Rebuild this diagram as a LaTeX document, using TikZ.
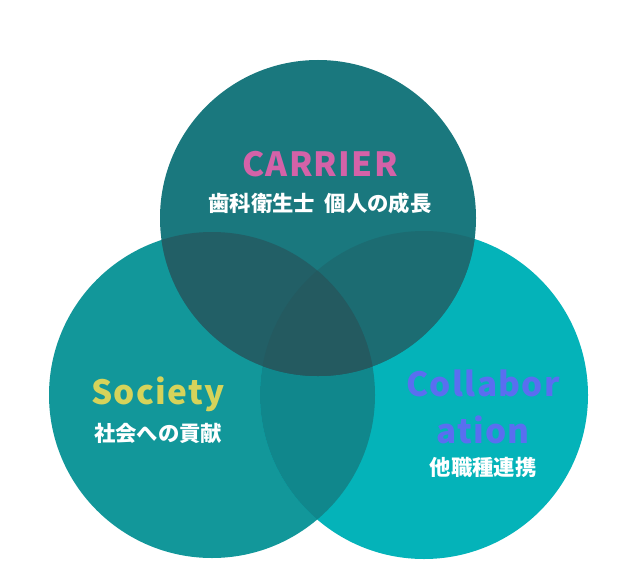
\documentclass[tikz,border=0pt]{standalone}
\usepackage{fontspec}
\setmainfont{Noto Sans CJK JP}
\definecolor{topc}{HTML}{1A787E}
\definecolor{leftc}{HTML}{12979A}
\definecolor{rightc}{HTML}{04B3B9}
\definecolor{lrc}{HTML}{10878C}
\definecolor{tlc}{HTML}{225F66}
\definecolor{trc}{HTML}{1C6C72}
\definecolor{allc}{HTML}{245A60}
\definecolor{pinkc}{HTML}{D462A8}
\definecolor{yellowc}{HTML}{D6D35A}
\definecolor{bluec}{HTML}{5A6EF0}
\begin{document}
\begin{tikzpicture}[
  x=0.75pt, y=-0.75pt,
  title/.style={font=\fontsize{25}{28}\selectfont\bfseries\addfontfeatures{LetterSpace=4}, inner sep=0pt, align=center},
  sub/.style={font=\fontsize{16}{18}\selectfont\bfseries, text=white, inner sep=0pt}
]
\useasboundingbox (0,0) rectangle (638,588);

% Circles
\fill[leftc] (212,395) circle [radius=163];
\fill[rightc] (424,395) circle [radius=164];
\begin{scope}
  \clip (212,395) circle [radius=163];
  \fill[lrc] (424,395) circle [radius=164];
\end{scope}
\fill[topc] (318,218) circle [radius=158];

% Overlaps with the top circle
\begin{scope}
  \clip (318,218) circle [radius=158];
  \fill[trc] (424,395) circle [radius=164];
  \fill[tlc] (212,395) circle [radius=163];
  \clip (424,395) circle [radius=164];
  \fill[allc] (212,395) circle [radius=163];
\end{scope}

% Labels
\node[title, text=pinkc] (carrier) at (320,164) {CARRIER};
\node[sub] (carriersub) at (320,203) {歯科衛生士\ \ 個人の成長};
\node[title, text=yellowc] (society) at (158,394) {Society};
\node[sub] (societysub) at (158,433) {社会への貢献};
\node[title, text=bluec] (collab) at (483,383) {Collabor};
\node[title, text=bluec] (collab2) at (483,430) {ation};
\node[sub] (collabsub) at (483,467) {他職種連携};

\end{tikzpicture}
\end{document}
